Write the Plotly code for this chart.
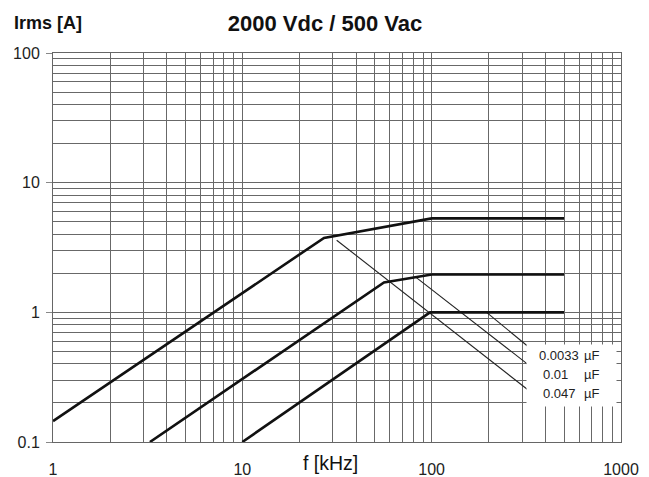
import plotly.graph_objects as go

# ---------------- data ----------------
freq_0033 = [1, 27, 100, 500]
irms_0033 = [0.145, 3.75, 5.3, 5.3]

freq_001 = [3.25, 56, 100, 500]
irms_001 = [0.1, 1.70, 1.96, 1.96]

freq_0047 = [10, 98, 500]
irms_0047 = [0.1, 1.0, 1.0]

# thin leader lines towards the labels
lead_0033_f = [195, 340]
lead_0033_i = [1.0, 0.512]
lead_001_f = [83, 343]
lead_001_i = [1.85, 0.37]
lead_0047_f = [31.5, 331]
lead_0047_i = [3.6, 0.245]

label_values = ["0.0033", "0.01", "0.047"]
label_unit = "µF"

x_tick_vals = [1, 10, 100, 1000]
x_tick_text = ["1", "10", "100", "1000"]
y_tick_vals = [0.1, 1, 10, 100]
y_tick_text = ["0.1", "1", "10", "100"]

title_text = "2000 Vdc / 500 Vac"
y_title = "Irms [A]"
x_title = "f [kHz]"

# ---------------- layout helpers ----------------
W, H = 649, 477
L, R, T, B = 53, 621, 53, 442
FONT = "Liberation Sans, Arial, sans-serif"

def px(xp):
    return (xp - L) / (R - L)

def py(yp):
    return (B - yp) / (B - T)

fig = go.Figure()

for f, i in [(lead_0033_f, lead_0033_i), (lead_001_f, lead_001_i), (lead_0047_f, lead_0047_i)]:
    fig.add_trace(go.Scatter(x=f, y=i, mode="lines",
                             line=dict(color="#222222", width=1.1),
                             showlegend=False, hoverinfo="skip"))

for f, i in [(freq_0033, irms_0033), (freq_001, irms_001), (freq_0047, irms_0047)]:
    fig.add_trace(go.Scatter(x=f, y=i, mode="lines",
                             line=dict(color="#111111", width=2.6),
                             showlegend=False, hoverinfo="skip"))

minor_vals = [m * 10 ** k for k in range(-1, 3) for m in range(2, 10)]

grid_col = "#686868"
fig.update_xaxes(type="log", range=[0, 3], automargin=False,
                 tickmode="array", tickvals=x_tick_vals, ticktext=x_tick_text,
                 showgrid=True, gridcolor=grid_col, gridwidth=1,
                 minor=dict(tickmode="array", tickvals=minor_vals, showgrid=True,
                            gridcolor=grid_col, gridwidth=1, ticks=""),
                 ticks="", ticklabelstandoff=13,
                 showline=True, linecolor="#666666", linewidth=1, mirror=True,
                 zeroline=False,
                 tickfont=dict(family=FONT, size=16, color="#222222"))
fig.update_yaxes(type="log", range=[-1, 2], automargin=False,
                 tickmode="array", tickvals=y_tick_vals, ticktext=y_tick_text,
                 showgrid=True, gridcolor=grid_col, gridwidth=1,
                 minor=dict(tickmode="array", tickvals=minor_vals, showgrid=True,
                            gridcolor=grid_col, gridwidth=1, ticks=""),
                 ticks="outside", ticklen=6, tickcolor="#888888", ticklabelstandoff=3,
                 showline=True, linecolor="#666666", linewidth=1, mirror=True,
                 zeroline=False,
                 tickfont=dict(family=FONT, size=16, color="#222222"))

annotations = []
# white label box
annotations.append(dict(xref="paper", yref="paper", x=px(571.5), y=py(375.5),
                        xanchor="center", yanchor="middle", text=" ",
                        width=89, height=61, bgcolor="white", showarrow=False,
                        borderpad=0))
lab_x = [537, 541, 541]
lab_y = [355, 374, 393]
for v, xx, yy in zip(label_values, lab_x, lab_y):
    annotations.append(dict(xref="paper", yref="paper", x=px(xx), y=py(yy),
                            xanchor="left", yanchor="middle", text=v,
                            showarrow=False,
                            font=dict(family=FONT, size=13, color="#222222")))
    annotations.append(dict(xref="paper", yref="paper", x=px(582), y=py(yy),
                            xanchor="left", yanchor="middle", text=label_unit,
                            showarrow=False,
                            font=dict(family=FONT, size=13, color="#222222")))

annotations.append(dict(xref="paper", yref="paper", x=px(12), y=py(23),
                        xanchor="left", yanchor="middle", text="<b>" + y_title + "</b>",
                        showarrow=False,
                        font=dict(family=FONT, size=18, color="#111111")))
annotations.append(dict(xref="paper", yref="paper", x=px(330), y=py(463),
                        xanchor="center", yanchor="middle", text=x_title,
                        showarrow=False,
                        font=dict(family=FONT, size=19.5, color="#111111")))

fig.update_layout(
    width=W, height=H,
    margin=dict(l=L, r=W - R, t=T, b=H - B, autoexpand=False),
    paper_bgcolor="white", plot_bgcolor="white",
    title=dict(text="<b>" + title_text + "</b>", x=325 / W, xanchor="center",
               y=1 - 23 / H, yanchor="middle", automargin=False,
               font=dict(family=FONT, size=22, color="#111111")),
    annotations=annotations,
)

fig.write_html("out.html", config={"displayModeBar": False},
               post_script="document.body.style.margin='0px';document.body.style.overflow='hidden';")
